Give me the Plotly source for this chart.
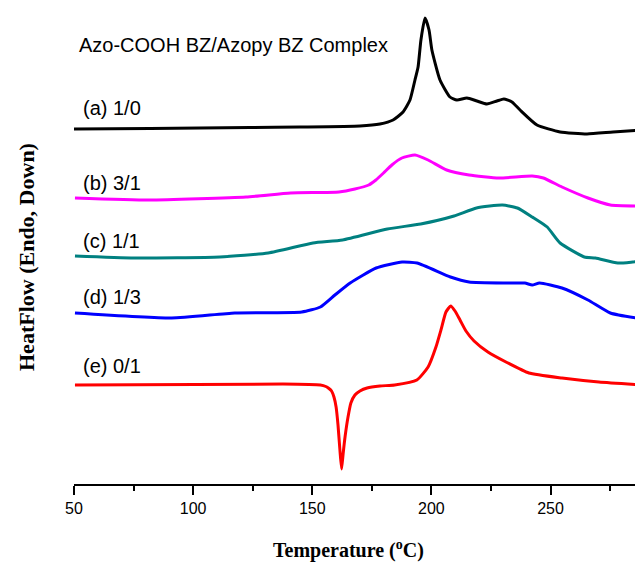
import plotly.graph_objects as go

# Temperature (°C) and heat-flow (arbitrary, offset units)
temp_a = [50.0, 81.9, 123.9, 144.8, 170.0, 178.4, 183.9, 188.1, 191.0, 193.1, 194.4, 195.6, 197.3, 199.0,
          200.2, 203.6, 207.8, 210.7, 214.9, 219.1, 223.3, 227.5, 230.4, 233.8, 237.2, 244.3, 254.0,
          265.3, 276.2, 288.8]
heat_a = [355, 355.5, 356.5, 357, 358, 360, 364, 372, 384, 404, 417, 444, 466, 454,
          434, 404, 387, 384, 386, 383, 380, 383, 385, 382, 374, 359, 352,
          350, 352, 354]

temp_b = [50.4, 81.6, 122.2, 140.9, 161.2, 167.9, 173.7, 176.7, 179.9, 183.4, 187.6, 193.1, 198.6,
          206.4, 215.8, 228.3, 242.3, 247.0, 254.8, 265.7, 275.1, 288.8]
heat_b = [286, 284, 287, 291, 292, 295, 299, 304, 311, 319, 326, 329, 324,
          314, 309, 306, 308, 306, 297, 286, 279, 278]

temp_c = [50.4, 75.3, 111.2, 131.5, 150.3, 162.7, 181.5, 195.5, 209.5, 218.9, 229.8, 236.1, 242.3,
          248.6, 254.0, 264.2, 268.8, 278.2, 284.5, 288.8]
heat_c = [228, 226, 227, 231, 241, 244, 255, 260, 268, 276, 279, 276, 267,
          257, 241, 227, 226, 221, 222, 223]

temp_d = [50.4, 91.0, 117.5, 145.6, 153.4, 159.5, 165.9, 176.8, 187.7, 194.0, 208.0, 215.8, 231.4,
          239.2, 242.3, 245.4, 254.8, 265.7, 275.1, 288.8]
heat_d = [171, 166, 171, 172, 177, 189, 201, 216, 222, 221, 207, 202, 201,
          201, 199, 201, 196, 184, 171, 165]

temp_e = [50.4, 137.7, 153.4, 155.7, 157.0, 158.1, 159.1, 160.0, 160.8, 161.6, 162.3, 162.9, 163.8,
          165.0, 166.2, 167.9, 170.0, 173.0, 178.4, 184.6, 193.9, 198.6, 201.9, 204.0, 206.1,
          208.1, 209.9, 212.0, 214.5, 217.9, 223.7, 231.3, 240.9, 254.8, 270.3, 288.8]
heat_e = [99, 100, 99, 97.5, 95.5, 93, 87, 77, 59, 34, 15, 29, 48,
          67, 81, 89, 93, 96, 98, 99, 104, 117, 137, 154, 172,
          178, 173, 164, 153, 143, 132, 122, 111, 106, 102, 99]

series_names = ["(a) 1/0", "(b) 3/1", "(c) 1/1", "(d) 1/3", "(e) 0/1"]
series_colors = ["#000000", "#FF00FF", "#008080", "#0000FF", "#FF0000"]
label_heat = [376, 301, 243, 187, 118]
title_text = "Azo-COOH BZ/Azopy BZ Complex"
x_ticks = [50, 100, 150, 200, 250]

temps = [temp_a, temp_b, temp_c, temp_d, temp_e]
heats = [heat_a, heat_b, heat_c, heat_d, heat_e]

fig = go.Figure()
for t, h, name, col in zip(temps, heats, series_names, series_colors):
    fig.add_trace(go.Scatter(x=t, y=h, mode="lines", name=name,
                             line=dict(color=col, width=3, shape="spline", smoothing=0.5),
                             showlegend=False, hoverinfo="skip"))

# page offset of 8px (body margin) is compensated in the layout below
PH = 476.0
annotations = []
for name, yh in zip(series_names, label_heat):
    annotations.append(dict(x=52.8, y=yh, xref="x", yref="y", text=name, showarrow=False,
                            xanchor="left", yanchor="middle",
                            font=dict(family="Liberation Sans, Arial", size=20, color="#000")))
annotations.append(dict(x=51.4, y=439, xref="x", yref="y", text=title_text, showarrow=False,
                        xanchor="left", yanchor="middle",
                        font=dict(family="Liberation Sans, Arial", size=20, color="#000")))
annotations.append(dict(x=(348 - 74) / 569, y=(484 - 549) / PH, xref="paper", yref="paper",
                        text="<b>Temperature (<sup>o</sup>C)</b>", showarrow=False,
                        xanchor="center", yanchor="middle",
                        font=dict(family="Liberation Serif, Times New Roman", size=20, color="#000")))
annotations.append(dict(x=(27 - 74) / 569, y=(484 - 257) / PH, xref="paper", yref="paper",
                        text="<b>HeatFlow (Endo, Down)</b>", showarrow=False, textangle=-90,
                        xanchor="center", yanchor="middle",
                        font=dict(family="Liberation Serif, Times New Roman", size=22, color="#000")))

fig.update_layout(
    width=635, height=554,
    margin=dict(l=66, r=0, t=0, b=78),
    paper_bgcolor="white", plot_bgcolor="white",
    annotations=annotations,
    xaxis=dict(range=[50, 288.8], tickvals=x_ticks, showline=True, linecolor="#000", linewidth=2,
               ticks="outside", ticklen=9, tickwidth=2, tickcolor="#000",
               minor=dict(tickvals=[75, 125, 175, 225, 275], ticks="outside", ticklen=5,
                          tickwidth=2, tickcolor="#000"),
               showgrid=False, zeroline=False,
               tickfont=dict(family="Liberation Sans, Arial", size=16, color="#000")),
    yaxis=dict(range=[0, PH], visible=False, showgrid=False, zeroline=False),
)

fig.write_html("out.html")
